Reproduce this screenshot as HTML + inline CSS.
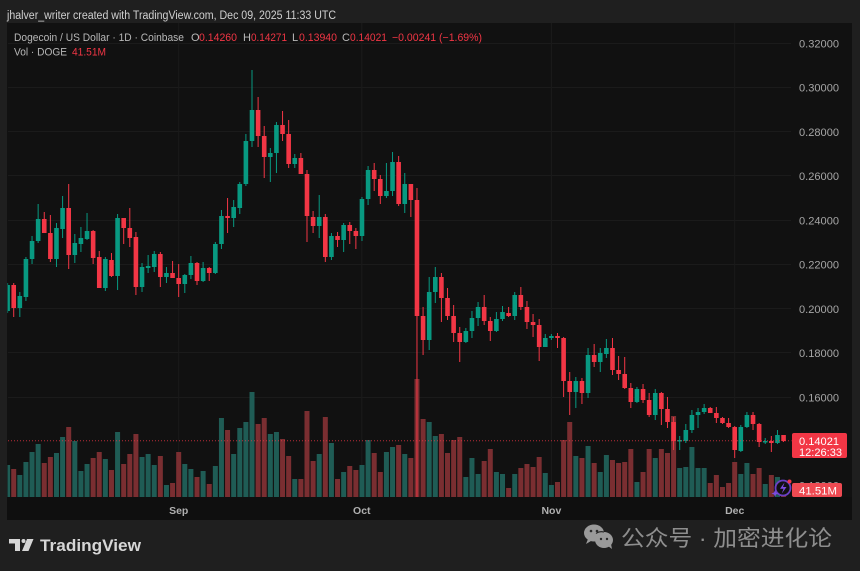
<!DOCTYPE html>
<html><head><meta charset="utf-8"><style>
html,body{margin:0;padding:0;background:#1f1f1f;width:860px;height:571px;overflow:hidden}
svg{display:block;font-family:"Liberation Sans",sans-serif}
</style></head><body>
<svg width="860" height="571" viewBox="0 0 860 571" xmlns="http://www.w3.org/2000/svg">
<defs><clipPath id="pane"><rect x="7.5" y="23" width="784" height="474"/></clipPath></defs>
<rect x="0" y="0" width="860" height="571" fill="#1f1f1f"/>
<rect x="7" y="23" width="845" height="497" fill="#111111"/>
<rect x="7" y="497" width="845" height="23" fill="#0f0f0f"/>
<text x="7" y="19" font-size="11.5" fill="#d0d0d0" textLength="329" lengthAdjust="spacingAndGlyphs">jhalver_writer created with TradingView.com, Dec 09, 2025 11:33 UTC</text>
<g stroke="#1b1b1b" stroke-width="1">
<path d="M8 43.5H791M8 87.5H791M8 131.5H791M8 175.5H791M8 220.5H791M8 264.5H791M8 308.5H791M8 352.5H791M8 397.5H791"/>
<path d="M178.7 23V497M361.8 23V497M551.4 23V497M734.7 23V497"/>
</g>
<g clip-path="url(#pane)">
<g transform="translate(7.6 0) scale(6.11 1)">
<path stroke="#1f5c55" stroke-width="5" vector-effect="non-scaling-stroke" fill="none" d="M0 465V497M2 475V497M3 462V497M4 452V497M5 444V497M8 453V497M9 437V497M11 441V497M12 471V497M13 464V497M16 459V497M18 432V497M22 457V497M23 454V497M24 465V497M26 485V497M29 464V497M30 469V497M32 471V497M34 466V497M35 418V497M37 454V497M38 428V497M39 422V497M40 392V497M43 434V497M44 432V497M47 479V497M51 454V497M53 443V497M55 472V497M58 465V497M59 440V497M62 452V497M63 447V497M65 454V497M69 422V497M70 436V497M75 477V497M76 458V497M77 474V497M80 472V497M81 474V497M83 474V497M88 473V497M89 485V497M93 456V497M95 446V497M97 472V497M98 455V497M103 482V497M106 458V497M110 468V497M111 467V497M112 447V497M113 468V497M114 468V497M120 474V497M121 463V497M124 484V497M126 477V497"/>
<path stroke="#7a2e31" stroke-width="5" vector-effect="non-scaling-stroke" fill="none" d="M1 469V497M6 463V497M7 457V497M10 427V497M14 458V497M15 452V497M17 470V497M19 464V497M20 454V497M21 434V497M25 456V497M27 483V497M28 452V497M31 477V497M33 484V497M36 430V497M41 424V497M42 418V497M45 439V497M46 456V497M48 479V497M49 411V497M50 461V497M52 417V497M54 479V497M56 466V497M57 470V497M60 453V497M61 472V497M64 445V497M66 458V497M67 379V497M68 419V497M71 434V497M72 453V497M73 440V497M74 437V497M78 461V497M79 449V497M82 488V497M84 468V497M85 464V497M86 467V497M87 457V497M90 482V497M91 440V497M92 422V497M94 458V497M96 463V497M99 460V497M100 463V497M101 462V497M102 449V497M104 472V497M105 449V497M107 449V497M108 453V497M109 416V497M115 483V497M116 475V497M117 487V497M118 483V497M119 462V497M122 474V497M123 468V497M125 475V497M127 480V497"/>
<path stroke="#089981" stroke-width="1" vector-effect="non-scaling-stroke" fill="none" d="M0 283V313M2 292V317M3 257V301M4 236V264M5 204V243M8 223V267M9 196V238M11 234V263M12 227V252M13 213V240M16 257V291M18 214V290M22 263V292M23 255V273M24 251V272M26 267V283M29 274V293M30 256V279M32 262V282M34 242V274M35 210V249M37 200V227M38 182V214M39 134V186M40 70V147M43 148V182M44 122V173M47 154V168M51 195V238M53 233V260M55 223V252M58 197V241M59 166V205M62 163V198M63 152V196M65 173V213M69 277V350M70 267V303M75 328V343M76 311V338M77 302V326M80 312V332M81 306V321M83 292V320M88 334V347M89 334V340M93 377V408M95 348V398M97 348V372M98 339V358M103 387V403M106 389V420M110 436V450M111 424V443M112 410V433M113 408V428M114 404V414M120 425V452M121 412V428M124 438V444M126 430V444"/>
<path stroke="#f23645" stroke-width="1" vector-effect="non-scaling-stroke" fill="none" d="M1 283V317M6 212V233M7 215V262M10 184V269M14 230V264M15 251V288M17 253V277M19 218V244M20 208V247M21 232V295M25 252V287M27 261V278M28 264V297M31 262V285M33 267V281M36 198V233M41 97V147M42 126V178M45 111V141M46 120V168M48 153V174M49 170V242M50 211V233M52 214V262M54 232V247M56 222V244M57 228V249M60 163V191M61 175V204M64 156V206M66 184V217M67 188V497M68 307V355M71 273V322M72 288V320M73 305V342M74 327V362M78 295V325M79 317V341M82 307V317M84 287V310M85 301V329M86 314V337M87 319V361M90 333V348M91 337V397M92 372V415M94 378V404M96 344V367M99 338V375M100 356V380M101 357V389M102 383V408M104 384V403M105 393V417M107 392V425M108 397V428M109 417V450M115 407V413M116 407V423M117 417V424M118 418V428M119 426V458M122 412V430M123 423V447M125 436V452M127 435V442"/>
<path stroke="#089981" stroke-width="4.6" vector-effect="non-scaling-stroke" fill="none" d="M0 285V311M2 296V308M3 259V297M4 241V259M5 219V241M8 228V259M9 208V229M11 243V255M12 238V244M13 231V239M16 259V288M18 218V276M22 267V287M23 266V268M24 254V267M26 273V277M29 275V284M30 263V275M32 268V281M34 244V273M35 216V244M37 207V218M38 184V208M39 141V184M40 110V141M43 153V157M44 125V153M47 158V164M51 217V226M53 236V257M55 225V240M58 199V236M59 170V199M62 191V196M63 162V191M65 184V204M69 292V340M70 277V292M75 331V342M76 318V331M77 307V318M80 319V331M81 312V319M83 295V316M88 338V347M89 336V338M93 381V392M95 355V393M97 353V362M98 348V354M103 389V402M106 393V415M110 440V441.5M111 430V441M112 415V430M113 412V415M114 408V412M120 427V451M121 415V427M124 441V442.5M126 435V443"/>
<path stroke="#f23645" stroke-width="4.6" vector-effect="non-scaling-stroke" fill="none" d="M1 285V308M6 219V233M7 233V259M10 208V255M14 231V258M15 257V288M17 260V276M19 218V228M20 228V238M21 237V287M25 254V277M27 273V278M28 278V284M31 263V281M33 268V273M36 216V218M41 110V136M42 136V157M45 125V134M46 134V164M48 158V174M49 174V216M50 217V226M52 217V257M54 236V240M56 225V231M57 231V236M60 170V179M61 179V196M64 162V204M66 184V200M67 200V316M68 316V340M71 277V298M72 298V316M73 316V333M74 333V342M78 307V321M79 321V331M82 313V316M84 295V307M85 307V322M86 322V325M87 325V347M90 336V338M91 338V381M92 381V392M94 381V393M96 355V362M99 348V370M100 370V374M101 374V388M102 388V402M104 389V400M105 400V415M107 393V409M108 409V422M109 422V441M115 408V413M116 413V418M117 418V423M118 423V427M119 427V450M122 415V424M123 424V442M125 441V443M127 435V441"/>
</g>
<path d="M8 440.8H792" stroke="#f23645" stroke-opacity="0.75" stroke-width="1" stroke-dasharray="1 2"/>
</g>
<!-- header legend -->
<g font-size="11">
<text x="14" y="41" fill="#b8b8b8" textLength="170" lengthAdjust="spacingAndGlyphs">Dogecoin / US Dollar · 1D · Coinbase</text>
<text x="191" y="41" fill="#b8b8b8">O</text>
<text x="199" y="41" fill="#f23645" textLength="38" lengthAdjust="spacingAndGlyphs">0.14260</text>
<text x="243" y="41" fill="#b8b8b8">H</text>
<text x="251" y="41" fill="#f23645" textLength="36" lengthAdjust="spacingAndGlyphs">0.14271</text>
<text x="292" y="41" fill="#b8b8b8">L</text>
<text x="299" y="41" fill="#f23645" textLength="38" lengthAdjust="spacingAndGlyphs">0.13940</text>
<text x="342" y="41" fill="#b8b8b8">C</text>
<text x="350" y="41" fill="#f23645" textLength="37" lengthAdjust="spacingAndGlyphs">0.14021</text>
<text x="392" y="41" fill="#f23645" textLength="90" lengthAdjust="spacingAndGlyphs">−0.00241 (−1.69%)</text>
<text x="14" y="55.5" fill="#b8b8b8" textLength="53" lengthAdjust="spacingAndGlyphs">Vol · DOGE</text>
<text x="72" y="55.5" fill="#f23645" textLength="34" lengthAdjust="spacingAndGlyphs">41.51M</text>
</g>
<!-- price axis -->
<g font-size="11" fill="#a6a6a6">
<text x="799" y="47.3" textLength="40" lengthAdjust="spacingAndGlyphs">0.32000</text>
<text x="799" y="91.5" textLength="40" lengthAdjust="spacingAndGlyphs">0.30000</text>
<text x="799" y="135.8" textLength="40" lengthAdjust="spacingAndGlyphs">0.28000</text>
<text x="799" y="180" textLength="40" lengthAdjust="spacingAndGlyphs">0.26000</text>
<text x="799" y="224.3" textLength="40" lengthAdjust="spacingAndGlyphs">0.24000</text>
<text x="799" y="268.5" textLength="40" lengthAdjust="spacingAndGlyphs">0.22000</text>
<text x="799" y="312.8" textLength="40" lengthAdjust="spacingAndGlyphs">0.20000</text>
<text x="799" y="357" textLength="40" lengthAdjust="spacingAndGlyphs">0.18000</text>
<text x="799" y="401.3" textLength="40" lengthAdjust="spacingAndGlyphs">0.16000</text>
<text x="799" y="489.5" textLength="40" lengthAdjust="spacingAndGlyphs">0.12000</text>
</g>
<rect x="792" y="433" width="55" height="25" rx="2" fill="#f23645"/>
<text x="799" y="445" font-size="11" fill="#ffffff" textLength="40" lengthAdjust="spacingAndGlyphs">0.14021</text>
<text x="799" y="456" font-size="11" fill="#ffffff" textLength="43" lengthAdjust="spacingAndGlyphs">12:26:33</text>
<rect x="792" y="483" width="50" height="14" rx="2" fill="#ee4a52"/>
<text x="799" y="494.5" font-size="11" fill="#ffffff" textLength="38" lengthAdjust="spacingAndGlyphs">41.51M</text>
<!-- icon -->
<g>
<circle cx="783" cy="488" r="7.5" fill="#111" stroke="#6a3fc4" stroke-width="1.8"/>
<path d="M784.5 482.5L780 488.8H783.5L781.8 493.5L786.5 487H783Z" fill="#7d4be0"/>
<path d="M775 490l1 2.5 2.5 1-2.5 1-1 2.5-1-2.5-2.5-1 2.5-1z" fill="#7d4be0"/>
<circle cx="789.5" cy="481.5" r="2" fill="#f23645"/>
</g>
<!-- time axis -->
<g font-size="10.5" font-weight="bold" fill="#b0b0b0" text-anchor="middle">
<text x="178.7" y="514">Sep</text>
<text x="361.8" y="514">Oct</text>
<text x="551.4" y="514">Nov</text>
<text x="734.7" y="514">Dec</text>
</g>
<!-- TradingView logo -->
<g fill="#d6d6d6">
<path d="M9 539H20V551H15V543.5H9Z"/>
<circle cx="23.5" cy="541" r="2"/>
<path d="M27 539H33.5L28.5 551H22Z"/>
</g>
<text x="40" y="551" font-size="17" font-weight="bold" fill="#d6d6d6" textLength="101" lengthAdjust="spacingAndGlyphs">TradingView</text>
<!-- wechat watermark -->
<g fill="#9a9a9a">
<ellipse cx="594" cy="533" rx="10" ry="8.5"/>
<ellipse cx="604" cy="540" rx="9" ry="8"/>
<path d="M588 539l-2 5 5-3z"/>
<path d="M608 546l4 3-1-5z"/>
</g>
<g fill="#2a2a2a">
<circle cx="591" cy="531" r="1.3"/><circle cx="597" cy="531" r="1.3"/>
<circle cx="601" cy="539" r="1.2"/><circle cx="607" cy="539" r="1.2"/>
</g>
<path d="M596 533.5a9 8 0 0 1 8-1.5" stroke="#1f1f1f" stroke-width="1" fill="none"/>
<text x="621" y="546" font-size="22" fill="#8e8e8e" font-family="'Liberation Sans','Noto Sans CJK SC',sans-serif" textLength="211" lengthAdjust="spacingAndGlyphs">公众号 · 加密进化论</text>
</svg>
</body></html>
